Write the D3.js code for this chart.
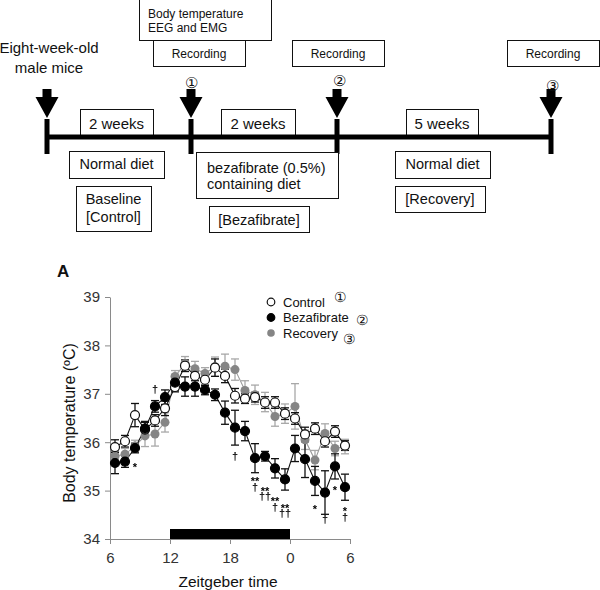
<!DOCTYPE html>
<html><head><meta charset="utf-8">
<script src="https://cdn.jsdelivr.net/npm/d3@7"></script>
<style>
body{margin:0;background:#fff}
svg{display:block}
text{font-family:"Liberation Sans",Arial,sans-serif}
.marks{filter:grayscale(100%)}
</style>
</head><body><svg id="c" width="600" height="590"></svg>
<script>
// ---------- data ----------
const zt = [6.5,7.5,8.5,9.5,10.5,11.5,12.5,13.5,14.5,15.5,16.5,17.5,18.5,19.5,20.5,21.5,22.5,23.5,24.5,25.5,26.5,27.5,28.5,29.5];
const control     = [35.90,36.02,36.56,36.26,36.45,36.70,37.14,37.58,37.37,37.29,37.54,37.37,36.96,36.90,36.93,36.82,36.82,36.59,36.49,36.16,36.28,36.02,36.22,35.93];
const controlSem  = [0.15,0.12,0.24,0.15,0.12,0.15,0.10,0.12,0.10,0.12,0.18,0.14,0.15,0.10,0.10,0.12,0.12,0.12,0.12,0.15,0.12,0.12,0.12,0.10];
const bezafibrate = [35.57,35.60,35.88,36.28,36.74,36.93,37.23,37.15,37.15,37.08,36.98,36.61,36.30,36.23,35.67,35.71,35.46,35.23,35.87,35.65,35.20,34.96,35.50,35.07];
const bezaSem     = [0.22,0.12,0.10,0.15,0.12,0.15,0.15,0.20,0.20,0.10,0.12,0.24,0.36,0.20,0.30,0.10,0.20,0.22,0.27,0.38,0.30,0.45,0.26,0.27];
const recovery    = [35.71,35.75,35.92,36.13,36.17,36.41,37.36,37.62,37.52,37.42,37.56,37.57,37.50,37.07,36.98,36.83,36.53,36.59,36.74,36.05,35.63,36.18,35.87,35.91];
const recSem      = [0.10,0.12,0.12,0.22,0.25,0.20,0.12,0.15,0.15,0.12,0.20,0.25,0.22,0.20,0.20,0.20,0.20,0.20,0.47,0.20,0.20,0.20,0.15,0.15];
const xTicks = [6,12,18,24,30];
const xTickLabels = ["6","12","18","0","6"];
const yTicks = [34,35,36,37,38,39];
const darkPeriod = [12,24];
const seriesNames = ["Control","Bezafibrate","Recovery"];
const seriesNums = ["①","②","③"];
// significance marks: ZT, lines, temperature of first line centre
const marks = [
  {zt:8.5, lines:["*"], t:35.51},
  {zt:10.5, lines:["†"], t:37.08},
  {zt:18.5, lines:["†"], t:35.71},
  {zt:20.5, lines:["**","†"], t:35.22},
  {zt:21.5, lines:["**","††"], t:35.03},
  {zt:22.5, lines:["**","†"], t:34.81},
  {zt:23.5, lines:["**","††"], t:34.68},
  {zt:26.5, lines:["*"], t:34.66},
  {zt:27.5, lines:["†"], t:34.41},
  {zt:28.5, lines:["*"], t:35.05},
  {zt:29.5, lines:["*","†"], t:34.60}
];

const svg = d3.select("#c");

// ---------- protocol diagram ----------
const diag = svg.append("g");
const milestoneX = [47,191,337,551];
const milestoneNum = [null,"①","②","③"];
const numY = [0,82,80,85];

function box(x0,x1,y0,y1){
  diag.append("rect").attr("x",x0+0.5).attr("y",y0+0.5).attr("width",x1-x0).attr("height",y1-y0)
    .attr("fill","#fff").attr("stroke","#111").attr("stroke-width",1);
}
function txt(x,y,s,size,anchor){
  diag.append("text").attr("x",x).attr("y",y).attr("font-size",size).attr("text-anchor",anchor||"middle").attr("fill","#111").text(s);
}

// top boxes
box(139,271,-1,40);
txt(148,18,"Body temperature",12,"start");
txt(148,32,"EEG and EMG",12,"start");
[[153,245],[292,384],[507,599]].forEach(b=>{box(b[0],b[1],40,66); txt((b[0]+b[1])/2,58,"Recording",12);});

txt(49,53,"Eight-week-old",15);
txt(49,73,"male mice",15);

// duration boxes (drawn before timeline)
[[80,153,"2 weeks"],[221,295,"2 weeks"],[406,478,"5 weeks"]].forEach(b=>{box(b[0],b[1],109,137); txt((b[0]+b[1])/2,129,b[2],15);});

// timeline
diag.append("line").attr("x1",milestoneX[0]).attr("x2",milestoneX[3]).attr("y1",137).attr("y2",137)
  .attr("stroke","#000").attr("stroke-width",5);
milestoneX.forEach((x,i)=>{
  diag.append("rect").attr("x",x-2.5).attr("y",119).attr("width",5).attr("height",35).attr("fill","#000");
  diag.append("path").attr("d",`M${x-4.5},89 H${x+4.5} V97 H${x+11.5} L${x},118 L${x-11.5},97 H${x-4.5} Z`).attr("fill","#000");
  if(milestoneNum[i]){
    diag.append("text").attr("x",x+ (i===1?0:(i===2?2:1))).attr("y",numY[i]+5.5).attr("text-anchor","middle")
      .attr("font-size",15).attr("font-family","Noto Sans CJK JP").attr("fill","#111").text(milestoneNum[i]);
  }
});

// diet boxes
box(69,164,151,178); txt(116.5,169,"Normal diet",14.5);
box(76,151,186,231); txt(113.5,204,"Baseline",14.5); txt(113.5,222,"[Control]",14.5);
box(196,338,152,198); txt(207,173,"bezafibrate (0.5%)",14.5,"start"); txt(207,189,"containing diet",14.5,"start");
box(209,309,206,232); txt(259,225,"[Bezafibrate]",14.5);
box(395,490,151,178); txt(442.5,169,"Normal diet",14.5);
box(395,485,186,212); txt(440,204,"[Recovery]",14.5);

// ---------- chart ----------
const x = d3.scaleLinear().domain([6,30]).range([110,350]);
const y = d3.scaleLinear().domain([34,39]).range([539,297]);

svg.append("text").attr("x",57).attr("y",277).attr("font-size",17).attr("font-weight","bold").attr("fill","#111").text("A");

// dark bar
svg.append("rect").attr("x",x(darkPeriod[0])).attr("width",x(darkPeriod[1])-x(darkPeriod[0]))
  .attr("y",529).attr("height",y(34)-529).attr("fill","#000");

const yAxis = svg.append("g").attr("transform",`translate(${x(6)},0)`)
  .call(d3.axisLeft(y).tickValues(yTicks).tickFormat(d3.format("d")).tickSize(5).tickSizeOuter(0).tickPadding(5));
const xAxis = svg.append("g").attr("transform",`translate(0,${y(34)})`)
  .call(d3.axisBottom(x).tickValues(xTicks).tickFormat((d,i)=>xTickLabels[i]).tickSize(5).tickSizeOuter(0).tickPadding(8));
[yAxis,xAxis].forEach(a=>{
  a.select(".domain").attr("stroke","#8a8a8a");
  a.selectAll(".tick line").attr("stroke","#8a8a8a");
  a.selectAll(".tick text").attr("font-size",15).attr("fill","#333").attr("font-family","Liberation Sans, Arial, sans-serif");
});

svg.append("text").attr("transform",`translate(75,423) rotate(-90)`).attr("text-anchor","middle")
  .attr("font-size",16).attr("fill","#111").text("Body temperature (ºC)");
svg.append("text").attr("x",228).attr("y",587).attr("text-anchor","middle")
  .attr("font-size",15.5).attr("fill","#111").text("Zeitgeber time");

const series = [
  {vals:recovery, sem:recSem, line:"#9a9a9a", bar:"#a8a8a8", fill:"#858585", stroke:"none"},
  {vals:control, sem:controlSem, line:"#111", bar:"#111", fill:"#fff", stroke:"#111"},
  {vals:bezafibrate, sem:bezaSem, line:"#111", bar:"#111", fill:"#000", stroke:"#000"}
];
const lineGen = d3.line().x((d,i)=>x(zt[i])).y(d=>y(d));
series.forEach(s=>{
  const g = svg.append("g");
  s.vals.forEach((v,i)=>{
    const cx = x(zt[i]), lo = y(v - s.sem[i]), hi = y(v + s.sem[i]);
    g.append("line").attr("x1",cx).attr("x2",cx).attr("y1",lo).attr("y2",hi).attr("stroke",s.bar).attr("stroke-width",1.3);
    g.append("line").attr("x1",cx-4).attr("x2",cx+4).attr("y1",lo).attr("y2",lo).attr("stroke",s.bar).attr("stroke-width",1.3);
    g.append("line").attr("x1",cx-4).attr("x2",cx+4).attr("y1",hi).attr("y2",hi).attr("stroke",s.bar).attr("stroke-width",1.3);
  });
  g.append("path").datum(s.vals).attr("d",lineGen).attr("fill","none").attr("stroke",s.line).attr("stroke-width",1.1);
});
series.forEach(s=>{
  svg.append("g").selectAll("circle").data(s.vals).join("circle")
    .attr("cx",(d,i)=>x(zt[i])).attr("cy",d=>y(d)).attr("r",4.5)
    .attr("fill",s.fill).attr("stroke",s.stroke).attr("stroke-width",1.2);
});

// significance marks: one text element per time point, stacked lines as tspans
const mg = svg.append("g").attr("class","marks");
marks.forEach(m=>{
  const t = mg.append("text").attr("text-anchor","middle").attr("font-size",11).attr("font-weight","bold").attr("fill","#000");
  m.lines.forEach((ln,j)=>{
    const yy = y(m.t) + 7.5*j + (ln.includes("*")?5.5:3.5);
    t.append("tspan").attr("x",x(m.zt)).attr("y",yy).text(ln);
  });
});

// legend
const lg = svg.append("g");
const legFill = ["#fff","#000","#858585"], legStroke = ["#111","#000","none"];
const numDx = [9,7,5], numDy = [-7,1,4];
seriesNames.forEach((n,i)=>{
  const cy = 302 + 15.5*i;
  lg.append("circle").attr("cx",271).attr("cy",cy).attr("r",3.8).attr("fill",legFill[i]).attr("stroke",legStroke[i]).attr("stroke-width",1.2);
  const t = lg.append("text").attr("x",283).attr("y",cy+4.5).attr("font-size",13).attr("fill","#111").text(n);
  const w = t.node().getComputedTextLength();
  lg.append("text").attr("x",283+w+numDx[i]).attr("y",cy+4.5+numDy[i]+ 2)
    .attr("font-size",14).attr("font-family","Noto Sans CJK JP").attr("fill","#111").text(seriesNums[i]);
});
</script></body></html>
